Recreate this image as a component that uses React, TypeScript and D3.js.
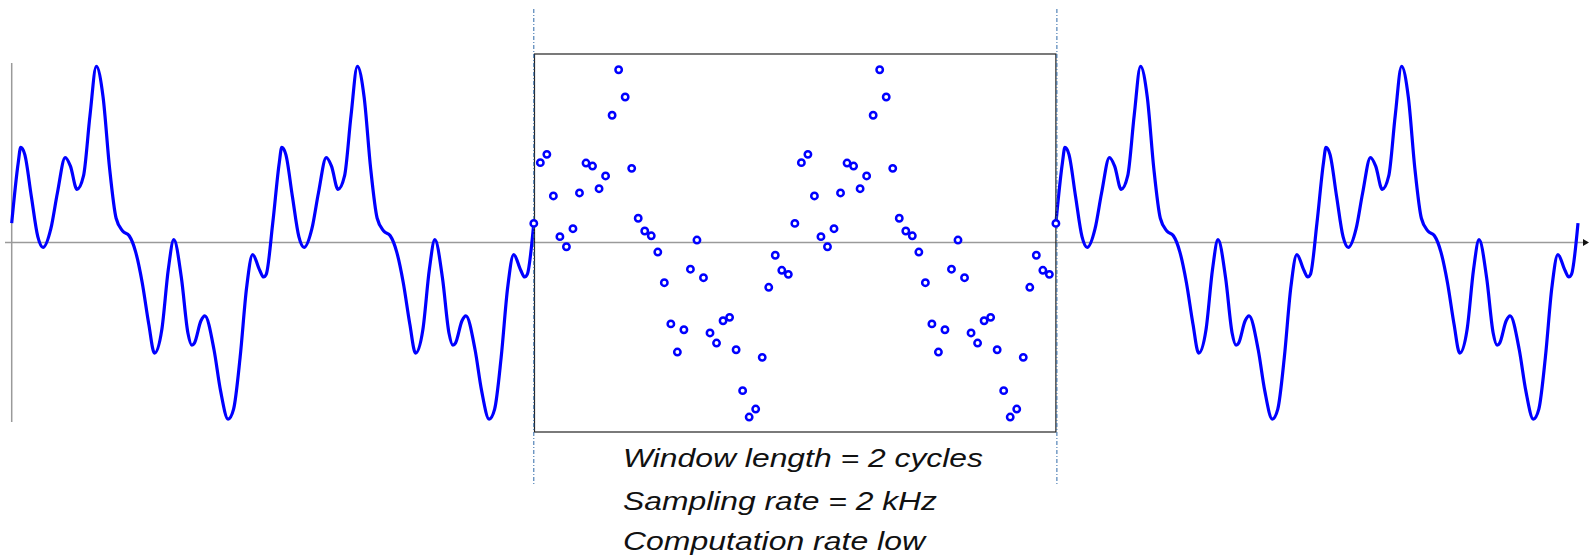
import React from "react";
import * as d3 from "d3";

// One cycle of the waveform: [phase (0..1), value (-1..1)]
const curvePhases = [0, 0.025, 0.0345, 0.05, 0.075, 0.1, 0.12, 0.15, 0.175, 0.205, 0.225, 0.25, 0.275, 0.3, 0.324, 0.35, 0.375, 0.4, 0.425, 0.45, 0.475, 0.5, 0.525, 0.547, 0.575, 0.6, 0.621, 0.65, 0.675, 0.69, 0.7, 0.725, 0.74, 0.775, 0.8, 0.829, 0.85, 0.875, 0.9, 0.923, 0.95, 0.965, 0.975, 1];
const curveValues = [0.11, 0.451, 0.537, 0.498, 0.263, 0.033, -0.028, 0.078, 0.28, 0.48, 0.432, 0.3, 0.376, 0.719, 0.995, 0.822, 0.419, 0.137, 0.065, 0.038, -0.054, -0.227, -0.46, -0.625, -0.493, -0.151, 0.016, -0.199, -0.511, -0.58, -0.568, -0.442, -0.415, -0.606, -0.837, -0.998, -0.941, -0.649, -0.253, -0.068, -0.157, -0.195, -0.18, 0.11];

// The 40 sample values per cycle (dots in the window)
const sampleValues = [0.108, 0.451, 0.498, 0.263, 0.033, -0.024, 0.078, 0.28, 0.449, 0.432, 0.304, 0.376, 0.719, 0.976, 0.822, 0.419, 0.137, 0.065, 0.038, -0.054, -0.227, -0.46, -0.619, -0.493, -0.151, 0.014, -0.199, -0.511, -0.568, -0.442, -0.423, -0.606, -0.837, -0.986, -0.941, -0.649, -0.253, -0.072, -0.157, -0.18];

const leftCycles = [0, 1];
const windowCycles = [2, 3];
const rightCycles = [4, 5];
const captionLines = ["Window length = 2 cycles", "Sampling rate = 2 kHz", "Computation rate low"];
const captionWidths = [360, 314, 302];
const captionBaselines = [466.5, 509.5, 549.5];

const W = 1589;
const H = 560;

export default function App() {
  const x = d3.scaleLinear().domain([0, 6]).range([11.7, 1578]);
  const y = d3.scaleLinear().domain([-1, 1]).range([419.5, 65.5]);

  const cyclePoints = (cycles: number[]) => {
    const pts: [number, number][] = [];
    cycles.forEach((c, ci) => {
      curvePhases.forEach((p, i) => {
        if (ci > 0 && i === 0) return;
        pts.push([c + p, curveValues[i]]);
      });
    });
    return pts;
  };

  const line = d3
    .line<[number, number]>()
    .x((d) => x(d[0]))
    .y((d) => y(d[1]))
    .curve(d3.curveMonotoneX);

  const dots: [number, number][] = [];
  windowCycles.forEach((c) => {
    sampleValues.forEach((v, k) => dots.push([c + k / sampleValues.length, v]));
  });
  dots.push([windowCycles[windowCycles.length - 1] + 1, sampleValues[0]]);

  const x0 = x(0);
  const yBase = y(0);
  const boxL = x(2) + 0.7;
  const boxR = x(4);

  return (
    <svg
      width={W}
      height={H}
      style={{ position: "absolute", left: 0, top: 0, background: "#fff" }}
    >
      {/* axes */}
      <line x1={5} x2={1584} y1={yBase} y2={yBase} stroke="#9a9a9a" strokeWidth={1.5} />
      <path d={`M1583,${yBase - 3.5} L1589,${yBase} L1583,${yBase + 3.5} Z`} fill="#111" />
      <line x1={x0} x2={x0} y1={63} y2={422} stroke="#9a9a9a" strokeWidth={1.5} />

      {/* continuous waveform outside window */}
      <path d={line(cyclePoints(leftCycles)) || ""} fill="none" stroke="#0000ff" strokeWidth={3.2} />
      <path d={line(cyclePoints(rightCycles)) || ""} fill="none" stroke="#0000ff" strokeWidth={3.2} />

      {/* window box */}
      <rect x={boxL} y={54} width={boxR - boxL} height={378} fill="none" stroke="#222" strokeWidth={1.2} />

      {/* dash-dot window markers */}
      {[x(2), x(4) + 1].map((xx, i) => (
        <line
          key={i}
          x1={xx}
          x2={xx}
          y1={9}
          y2={485}
          stroke="#2f6aa8"
          strokeWidth={1}
          strokeDasharray="4,2,1,2"
        />
      ))}

      {/* samples */}
      {dots.map((d, i) => (
        <circle key={i} cx={x(d[0])} cy={y(d[1])} r={3.2} fill="#fff" stroke="#0000ff" strokeWidth={2.5} />
      ))}

      {/* caption */}
      {captionLines.map((t, i) => (
        <text
          key={i}
          x={623}
          y={captionBaselines[i]}
          fontFamily="'Liberation Sans', Arial, sans-serif"
          fontStyle="italic"
          fontSize={26.5}
          textLength={captionWidths[i]}
          lengthAdjust="spacingAndGlyphs"
          fill="#111"
        >
          {t}
        </text>
      ))}
    </svg>
  );
}
